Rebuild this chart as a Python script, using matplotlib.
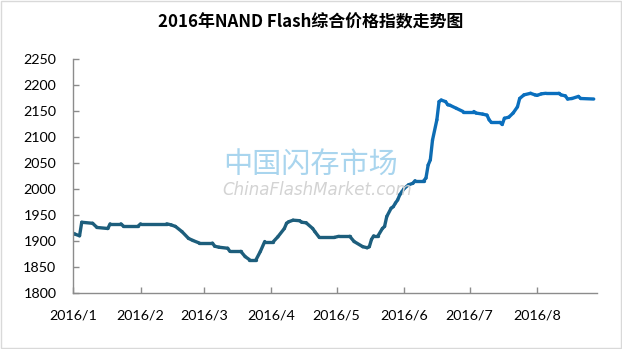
import numpy as np
import pandas as pd
import matplotlib
matplotlib.use('Agg')
import matplotlib.pyplot as plt
import matplotlib.dates as mdates
from matplotlib.collections import LineCollection
from matplotlib.colors import to_rgb
from matplotlib.patches import Rectangle

# 指数数据
day_offsets = [0, 1, 3, 4, 9, 11, 16, 17, 22, 23, 30, 31, 43, 45,
               47, 50, 53, 55, 58, 64, 65, 67, 71, 72, 77, 79, 81, 84, 86, 88, 92, 94, 97, 98,
               99, 101, 104, 105, 107, 110, 111, 113, 120, 122, 127, 129, 133, 135, 136, 137,
               138, 140, 142, 143, 144, 146,
               147, 148, 149, 150, 151, 152, 154, 156, 157, 161, 162, 163, 164, 165, 167, 168,
               169, 171, 172,
               173, 176, 179, 184, 185, 188, 190, 191, 192, 196, 197, 198, 200, 202, 204, 205,
               207, 210, 212, 213, 215, 217, 223, 224, 226, 227, 229, 232, 233, 239]
index_values = [1915, 1913, 1910, 1936, 1934, 1926, 1924, 1933, 1933, 1929, 1929, 1933, 1933, 1931,
                1928, 1918, 1905, 1901, 1896, 1896, 1890, 1888, 1886, 1880, 1880, 1870, 1864, 1864,
                1880, 1899, 1899, 1908, 1924, 1934,
                1937, 1940, 1939, 1936, 1935, 1924, 1918, 1907, 1907, 1909, 1909, 1899, 1889, 1887,
                1889, 1903, 1910, 1910, 1924, 1928, 1947, 1963,
                1966, 1973, 1979, 1989, 1995, 2001, 2008, 2011, 2016, 2016, 2021, 2046, 2056, 2094,
                2133, 2168, 2171, 2168, 2162,
                2161, 2155, 2149, 2149, 2146, 2144, 2142, 2133, 2128, 2128, 2124, 2136, 2138, 2146,
                2158, 2174, 2181, 2184, 2181, 2180, 2183, 2184, 2184, 2181, 2179, 2173, 2174, 2178,
                2174, 2173]
month_labels = ['2016/1', '2016/2', '2016/3', '2016/4', '2016/5', '2016/6', '2016/7', '2016/8']
y_ticks = list(range(1800, 2251, 50))

start = pd.Timestamp('2016-01-01')
dates = [start + pd.Timedelta(days=d) for d in day_offsets]
month_starts = pd.date_range('2016-01-01', periods=8, freq='MS')

plt.rcParams['font.family'] = ['Lato', 'DejaVu Sans']

fig = plt.figure(figsize=(6.22, 3.49), dpi=100)
ax = fig.add_axes([0.1174, 0.1605, 0.8424, 0.6705])

x = mdates.date2num(dates)
y = np.array(index_values, dtype=float)
pts = np.column_stack([x, y]).reshape(-1, 1, 2)
segs = np.concatenate([pts[:-1], pts[1:]], axis=1)

# 颜色从深青色渐变到蓝色
c0 = np.array(to_rgb('#1d5e7c'))
c1 = np.array(to_rgb('#0a6fbe'))
mid = np.array(day_offsets[:-1]) + np.diff(day_offsets) / 2
t = np.clip((mid - 140) / 30.0, 0, 1)
colors = [c0 * (1 - k) + c1 * k for k in t]
lc = LineCollection(segs, colors=colors, linewidths=2.4, capstyle='round', joinstyle='round')
ax.add_collection(lc)
ax.xaxis_date()

ax.set_xlim(mdates.date2num(start), mdates.date2num(start + pd.Timedelta(days=240.5)))
ax.set_ylim(1800, 2250)
ax.set_yticks(y_ticks)
ax.set_yticklabels([str(v) for v in y_ticks])
ax.set_xticks(mdates.date2num(month_starts))
ax.set_xticklabels(month_labels)

for s in ['top', 'right']:
    ax.spines[s].set_visible(False)
for s in ['left', 'bottom']:
    ax.spines[s].set_color('#8c8c8c')
    ax.spines[s].set_linewidth(1.0)
ax.tick_params(axis='both', direction='in', length=4, width=1.0, color='#8c8c8c',
               labelsize=10.3, labelcolor='black')
ax.tick_params(axis='y', pad=12)
ax.tick_params(axis='x', pad=12)

fig.text(0.5, 0.937, '2016年NAND Flash综合价格指数走势图', ha='center', va='center',
         fontsize=12.2, fontweight='bold', family=['Noto Sans CJK SC', 'DejaVu Sans'])

# 水印
fig.text(0.500, 0.527, '中国闪存市场', ha='center', va='center', fontsize=21,
         color='#a9d5ee', family=['Noto Sans CJK SC'], zorder=0)
fig.text(0.510, 0.456, 'ChinaFlashMarket.com', ha='center', va='center', fontsize=12,
         color='#d3d3d3', style='italic', family=['DejaVu Sans'], zorder=0)

fig.patches.append(Rectangle((0.001, 0.002), 0.997, 0.995, transform=fig.transFigure,
                             fill=False, edgecolor='#d9d9d9', linewidth=1.0))

plt.savefig('out.png', dpi=100)
